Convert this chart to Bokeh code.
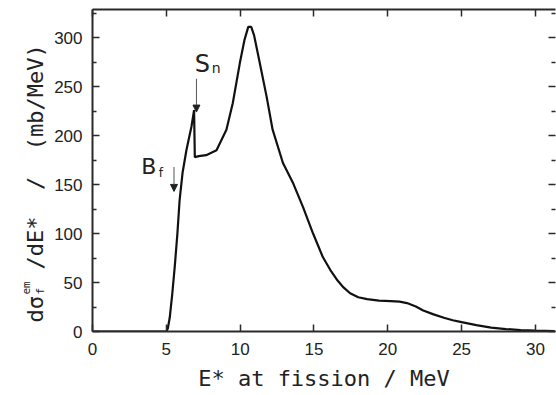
import math
from bokeh.plotting import figure
from bokeh.models import Label, Arrow, NormalHead, LinearAxis, Range1d, FixedTicker
from bokeh.embed import file_html
from bokeh.resources import INLINE

# ---- data ----
energy = [0, 5.0, 5.1, 5.23, 5.4, 5.57, 5.75, 5.9, 6.1, 6.36, 6.7, 6.88, 6.93, 7.2, 7.7,
          8.4, 9.07, 9.5, 9.98, 10.3, 10.55, 10.75, 10.95, 11.33, 11.79, 12.2, 12.9,
          13.6, 14.26, 14.94, 15.6, 16.1, 16.6, 17.0, 17.45, 18.0, 18.6, 19.4, 20.2,
          20.8, 21.3, 21.9, 22.4, 23.1, 23.8, 24.4, 25.0, 26.0, 27.0, 28.0, 29.0, 30.0, 31.3]
dsigma = [0, 0, 3, 14, 38, 66, 100, 134, 162, 185, 209, 226, 178, 179, 180,
          185, 206, 233, 274, 298, 311, 311, 302, 274, 240, 206, 172,
          151, 127, 100, 76, 63, 52, 45, 39, 35, 33, 31.5, 31,
          30.5, 29, 25.5, 21.5, 17.5, 14, 11.5, 9.5, 6.5, 4, 2.5, 1.5, 0.8, 0.3]

x_ticks = [0, 5, 10, 15, 20, 25, 30]
y_ticks = [0, 50, 100, 150, 200, 250, 300]
y_minor = [25, 75, 125, 175, 225, 275, 325]

bf_energy, bf_value = 5.52, 143   # fission barrier marker
sn_energy, sn_value = 7.04, 224   # neutron separation energy marker

AX = "#2a2a2a"
MONO = "DejaVu Sans Mono"
SP = "\u00a0"

p = figure(width=556, height=395, x_range=Range1d(0, 31.36), y_range=Range1d(0, 328.7),
           output_backend="svg", toolbar_location=None,
           min_border_left=92, min_border_right=1, min_border_top=9, min_border_bottom=64)
p.outline_line_color = None
p.xgrid.visible = False
p.ygrid.visible = False
p.background_fill_color = "white"
p.border_fill_color = "white"

p.line(energy, dsigma, line_color="#111111", line_width=2.2)

def style(ax, ticks, minor, labels=True, line=True):
    ax.ticker = FixedTicker(ticks=ticks, minor_ticks=minor)
    ax.axis_line_width = 2
    ax.axis_line_color = AX if line else None
    ax.major_tick_in = 7
    ax.major_tick_out = 0
    ax.minor_tick_in = 4
    ax.minor_tick_out = 0
    ax.major_tick_line_color = AX
    ax.minor_tick_line_color = AX
    ax.major_tick_line_width = 1.5
    ax.minor_tick_line_width = 1.5
    if labels:
        ax.major_label_text_font = "Liberation Sans"
        ax.major_label_text_font_size = "17px"
        ax.major_label_text_color = "#222222"
    else:
        ax.major_label_text_color = None
        ax.major_label_text_font_size = "0px"
        ax.major_label_standoff = 0

style(p.xaxis[0], x_ticks, [])
p.xaxis[0].major_label_standoff = 11
p.xaxis[0].axis_label = "E* at fission / MeV"
p.xaxis[0].axis_label_text_font = MONO
p.xaxis[0].axis_label_text_font_size = "22px"
p.xaxis[0].axis_label_text_font_style = "normal"
p.xaxis[0].axis_label_text_color = "#222222"
p.xaxis[0].axis_label_standoff = 8

style(p.yaxis[0], y_ticks, y_minor)
p.yaxis[0].major_label_standoff = 10

top = LinearAxis()
style(top, x_ticks, [], labels=False)
p.add_layout(top, "above")
right = LinearAxis()
style(right, y_ticks, y_minor, labels=False, line=False)
p.add_layout(right, "right")

# ---- y title (canvas units, placed in the left side panel) ----
up = math.pi / 2
def ylab(text, cx, cy, size):
    p.add_layout(Label(x=cx, y=cy, x_units="canvas", y_units="canvas", text=text,
                       angle=up, text_font=MONO, text_font_size=size,
                       text_color="#222222", text_align="left", text_baseline="alphabetic"),
                 "left")

ylab("dσ" + SP * 2 + "/dE*" + SP * 2 + "/" + SP * 2 + "(mb/MeV)", 35, 322, "22px")
ylab("em", 26, 294, "11px")
ylab("f", 40, 294, "11px")

# ---- markers Bf and Sn ----
head = dict(size=7, line_color="#222222", fill_color="#222222")
p.add_layout(Arrow(end=NormalHead(**head), x_start=bf_energy, y_start=bf_value + 25,
                   x_end=bf_energy, y_end=bf_value, line_width=1, line_color="#555555"))
p.add_layout(Arrow(end=NormalHead(**head), x_start=sn_energy, y_start=sn_value + 34,
                   x_end=sn_energy, y_end=sn_value, line_width=1, line_color="#555555"))

def dlab(text, x, y, size):
    p.add_layout(Label(x=x, y=y, text=text, text_font="DejaVu Sans", text_font_size=size,
                       text_color="#222222", text_align="left", text_baseline="alphabetic"))

dlab("B", bf_energy - 2.22, bf_value + 25, "22px")
dlab("f", bf_energy - 1.04, bf_value + 19, "12px")
dlab("S", sn_energy - 0.12, sn_value + 49, "24px")
dlab("n", sn_energy + 1.04, sn_value + 45, "14px")

open("out.html", "w").write(file_html(p, INLINE))
